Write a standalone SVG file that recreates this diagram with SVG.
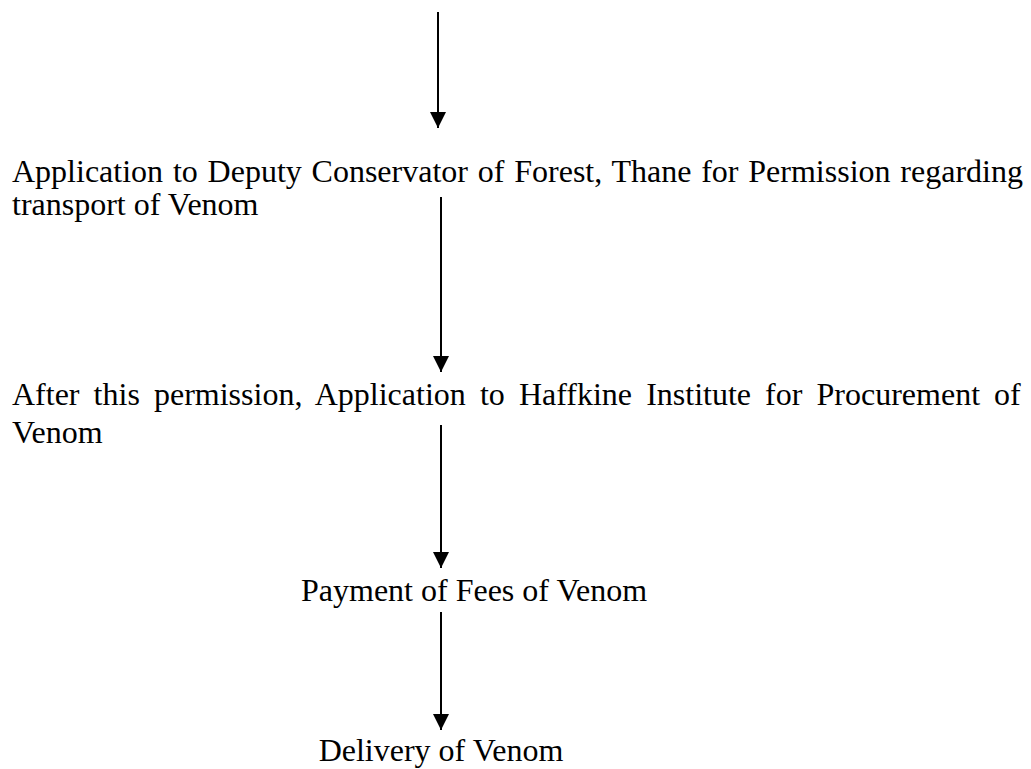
<svg xmlns="http://www.w3.org/2000/svg" width="1031" height="769" viewBox="0 0 1031 769">
<style>
text{font-family:'Liberation Serif','Times New Roman',serif;font-size:32px;fill:#000}
.c{stroke:#000;stroke-width:2;fill:none}
</style>
<defs>
<marker id="ah" markerUnits="userSpaceOnUse" markerWidth="16" markerHeight="16" refX="16" refY="8" orient="auto" viewBox="0 0 16 16">
<path d="M0,0 L16,8 L0,16 Z" fill="#000"/>
</marker>
</defs>
<rect width="1031" height="769" fill="#fff"/>
<g id="connectors">
<line class="c" x1="438" y1="12" x2="438" y2="128" marker-end="url(#ah)"/>
<line class="c" x1="441" y1="197" x2="441" y2="372" marker-end="url(#ah)"/>
<line class="c" x1="441" y1="425" x2="441" y2="568" marker-end="url(#ah)"/>
<line class="c" x1="441" y1="612" x2="441" y2="730" marker-end="url(#ah)"/>
</g>
<g id="node1">
<text x="12" y="182" word-spacing="1.8">Application to Deputy Conservator of Forest, Thane for Permission regarding</text>
<text x="12" y="215">transport of Venom</text>
</g>
<g id="node2">
<text x="12" y="405" word-spacing="6.1">After this permission, Application to Haffkine Institute for Procurement of</text>
<text x="12" y="443">Venom</text>
</g>
<g id="node3">
<text x="301" y="601">Payment of Fees of Venom</text>
</g>
<g id="node4">
<text x="441" y="761" text-anchor="middle">Delivery of Venom</text>
</g>
</svg>
